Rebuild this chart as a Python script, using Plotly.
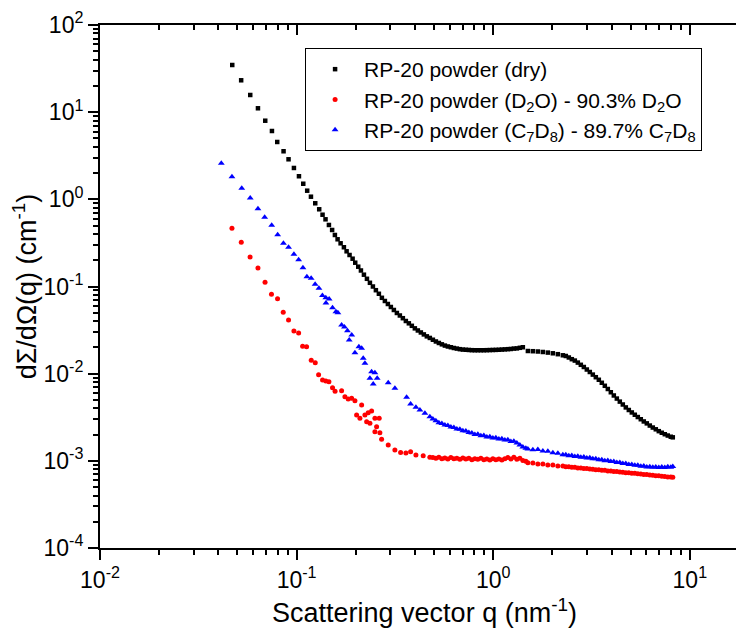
import plotly.graph_objects as go

# ---------------- data ----------------
# shared q grids (nm^-1)
q_mid = [0.2124, 0.2200, 0.2279, 0.2360, 0.2444, 0.2531, 0.2621, 0.2715, 0.2812, 0.2912,
         0.3016, 0.3124, 0.3236, 0.3351, 0.3471, 0.3595, 0.3723, 0.3856, 0.3994, 0.4137,
         0.4285, 0.4438, 0.4596, 0.4760]
q_plateau = [0.4934, 0.5110, 0.5292, 0.5481, 0.5677, 0.5880, 0.6090, 0.6308, 0.6533, 0.6767,
             0.7009, 0.7259, 0.7518, 0.7787, 0.8065, 0.8353, 0.8652, 0.8961, 0.9281, 0.9613,
             0.9960, 1.0316, 1.0684, 1.1066, 1.1462, 1.1872, 1.2296, 1.2735, 1.3190, 1.3662,
             1.4150, 1.4656]
q_high = [1.5009, 1.591, 1.6868, 1.7884, 1.8962, 2.0109, 2.1321, 2.2606, 2.3406, 2.4243,
          2.5110, 2.6008, 2.6937, 2.7900, 2.8900, 2.9933, 3.1003, 3.2112, 3.3259, 3.4449,
          3.5680, 3.6955, 3.8277, 3.9645, 4.1062, 4.2530, 4.4050, 4.5624, 4.7255, 4.8944,
          5.0694, 5.2506, 5.4382, 5.6326, 5.8339, 6.0426, 6.2585, 6.4820, 6.7137, 6.9535,
          7.2018, 7.4594, 7.7260, 8.0019, 8.1918]

# RP-20 powder (dry)
q_dry_low = [0.04706, 0.05224, 0.05810, 0.06360, 0.06926, 0.07492, 0.07969, 0.08583, 0.0910, 0.09691,
             0.1028, 0.1081, 0.1132, 0.1183, 0.1244, 0.1303, 0.1355, 0.1403, 0.1460, 0.1516,
             0.1566, 0.1616, 0.1674, 0.1740, 0.1796, 0.1859, 0.1927, 0.1987, 0.2058]
I_dry_low = [34.76, 23.21, 15.74, 11.08, 7.98, 6.08, 4.55, 3.56, 2.88, 2.29,
             1.84, 1.51, 1.256, 1.072, 0.901, 0.769, 0.666, 0.590, 0.508, 0.445,
             0.390, 0.348, 0.313, 0.282, 0.2534, 0.2298, 0.2084, 0.1875, 0.1687]
I_dry_mid = [0.1527, 0.1366, 0.1226, 0.1103, 0.1000, 0.0907, 0.0825, 0.0742, 0.0682, 0.0630,
             0.0582, 0.0538, 0.0497, 0.0465, 0.0433, 0.0402, 0.0378, 0.0354, 0.0331, 0.0313,
             0.0297, 0.0282, 0.0268, 0.0257]
I_dry_plateau = [0.0245, 0.0234, 0.0225, 0.0217, 0.0210, 0.0205, 0.0201, 0.0197, 0.0194, 0.0191,
                 0.0189, 0.0188, 0.0187, 0.0186, 0.01857, 0.01857, 0.01857, 0.01857, 0.0186, 0.01865,
                 0.0187, 0.01874, 0.0188, 0.0189, 0.0190, 0.0191, 0.0192, 0.0194, 0.0195, 0.0198,
                 0.0201]
I_dry_high = [0.0182, 0.0181, 0.01796, 0.01773, 0.01745, 0.01713, 0.01673, 0.01625, 0.01595, 0.01533,
              0.01466, 0.01413, 0.01340, 0.01264, 0.01193, 0.01116, 0.01045, 0.00976, 0.00911, 0.00851,
              0.00786, 0.00726, 0.00667, 0.00612, 0.00562, 0.00518, 0.00478, 0.00443, 0.00410, 0.00383,
              0.00359, 0.00338, 0.00318, 0.00300, 0.00283, 0.00269, 0.00254, 0.00241, 0.00230, 0.00219,
              0.00210, 0.00202, 0.00195, 0.00189, 0.00186]

# RP-20 powder (D2O) - 90.3% D2O
q_d2o_low = [0.0469, 0.0523, 0.0580, 0.0636, 0.0691, 0.0745, 0.0800, 0.0855, 0.0910, 0.0969,
             0.1024, 0.1073, 0.1124, 0.1187, 0.1244, 0.1294, 0.1355, 0.1408, 0.1460, 0.1523,
             0.1569, 0.1694, 0.1761, 0.1830, 0.1905, 0.1980, 0.2019, 0.2099, 0.2142, 0.2226,
             0.2271, 0.2313, 0.2360, 0.2407, 0.2502, 0.2502, 0.2552, 0.2631, 0.2652, 0.2706,
             0.2924, 0.3162, 0.3381, 0.3596, 0.3800, 0.4044, 0.4404, 0.4762]
I_d2o_low = [0.465, 0.322, 0.218, 0.163, 0.112, 0.0814, 0.0725, 0.0506, 0.0413, 0.0309,
             0.0293, 0.0206, 0.0204, 0.01424, 0.01337, 0.00973, 0.00846, 0.00824, 0.00809, 0.00691,
             0.00628, 0.00636, 0.00544, 0.00512, 0.00522, 0.00490, 0.00336, 0.00308, 0.00437, 0.00336,
             0.00281, 0.00357, 0.00270, 0.00373, 0.00308, 0.00216, 0.00246, 0.00308, 0.00210, 0.00177,
             0.00152, 0.00133, 0.00125, 0.00123, 0.00127, 0.00117, 0.00114, 0.00110]
I_d2o_plateau = [1.09e-3, 1.07e-3, 1.10e-3, 1.06e-3, 1.08e-3, 1.05e-3, 1.09e-3, 1.06e-3, 1.07e-3, 1.04e-3,
                 1.08e-3, 1.05e-3, 1.07e-3, 1.03e-3, 1.06e-3, 1.04e-3, 1.07e-3, 1.03e-3, 1.05e-3, 1.02e-3,
                 1.06e-3, 1.03e-3, 1.05e-3, 1.02e-3, 1.06e-3, 1.09e-3, 1.05e-3, 1.10e-3, 1.04e-3, 1.07e-3,
                 1.01e-3, 0.99e-3]
I_d2o_high = [9.52e-4, 9.45e-4, 9.22e-4, 9.18e-4, 8.98e-4, 8.95e-4, 8.74e-4, 8.71e-4, 8.58e-4, 8.57e-4,
              8.42e-4, 8.43e-4, 8.30e-4, 8.29e-4, 8.17e-4, 8.16e-4, 8.05e-4, 8.03e-4, 7.92e-4, 7.91e-4,
              7.80e-4, 7.78e-4, 7.67e-4, 7.66e-4, 7.55e-4, 7.54e-4, 7.43e-4, 7.42e-4, 7.31e-4, 7.30e-4,
              7.20e-4, 7.18e-4, 7.09e-4, 7.07e-4, 6.97e-4, 6.96e-4, 6.86e-4, 6.85e-4, 6.76e-4, 6.74e-4,
              6.65e-4, 6.63e-4, 6.54e-4, 6.52e-4, 6.46e-4]

# RP-20 powder (C7D8) - 89.7% C7D8
q_c7d8_low = [0.0414, 0.0469, 0.0526, 0.0581, 0.0636, 0.0688, 0.0747, 0.0801, 0.0857, 0.0910,
              0.0969, 0.1024, 0.1077, 0.1128, 0.1186, 0.1242, 0.1299, 0.1353, 0.1408, 0.1464,
              0.1410, 0.1523, 0.1585, 0.1622, 0.1694, 0.1751, 0.1814, 0.1852, 0.1907, 0.1980,
              0.2074, 0.2142, 0.2182, 0.2226, 0.2360, 0.2407, 0.2453, 0.2502, 0.2570, 0.2924,
              0.3162, 0.3627, 0.3800, 0.4044, 0.4238, 0.4493, 0.4762]
I_c7d8_low = [2.591, 1.818, 1.339, 1.036, 0.781, 0.622, 0.504, 0.393, 0.314, 0.2824,
              0.2342, 0.2025, 0.1643, 0.1296, 0.1245, 0.1060, 0.0954, 0.0788, 0.0744, 0.0719,
              0.0647, 0.0571, 0.0514, 0.0501, 0.0362, 0.0343, 0.0310, 0.0243, 0.0278, 0.0174,
              0.0204, 0.0196, 0.0150, 0.01315, 0.00885, 0.01053, 0.00761, 0.01026, 0.00885, 0.00788,
              0.00680, 0.00536, 0.00449, 0.00411, 0.00383, 0.00351, 0.00321]
I_c7d8_plateau = [3.02e-3, 2.88e-3, 2.73e-3, 2.68e-3, 2.57e-3, 2.54e-3, 2.44e-3, 2.41e-3, 2.32e-3, 2.31e-3,
                  2.22e-3, 2.20e-3, 2.11e-3, 2.09e-3, 2.01e-3, 2.02e-3, 1.94e-3, 1.95e-3, 1.88e-3, 1.89e-3,
                  1.83e-3, 1.84e-3, 1.78e-3, 1.79e-3, 1.73e-3, 1.74e-3, 1.67e-3, 1.68e-3, 1.60e-3, 1.52e-3,
                  1.44e-3, 1.39e-3]
I_c7d8_high = [1.367e-3, 1.340e-3, 1.345e-3, 1.300e-3, 1.290e-3, 1.235e-3, 1.224e-3, 1.176e-3, 1.175e-3, 1.145e-3,
               1.152e-3, 1.120e-3, 1.128e-3, 1.096e-3, 1.103e-3, 1.078e-3, 1.084e-3, 1.058e-3, 1.060e-3, 1.028e-3,
               1.030e-3, 1.002e-3, 1.006e-3, 0.981e-3, 0.983e-3, 0.955e-3, 0.960e-3, 0.933e-3, 0.934e-3, 0.909e-3,
               0.910e-3, 0.887e-3, 0.890e-3, 0.869e-3, 0.872e-3, 0.852e-3, 0.858e-3, 0.842e-3, 0.851e-3, 0.836e-3,
               0.848e-3, 0.838e-3, 0.853e-3, 0.846e-3, 0.860e-3]

names = ["RP-20 powder (dry)",
         "RP-20 powder (D<sub>2</sub>O) - 90.3% D<sub>2</sub>O",
         "RP-20 powder (C<sub>7</sub>D<sub>8</sub>) - 89.7% C<sub>7</sub>D<sub>8</sub>"]

x_tickvals = [0.01, 0.1, 1, 10]
x_ticktext = ["10<sup>-2</sup>", "10<sup>-1</sup>", "10<sup>0</sup>", "10<sup>1</sup>"]
y_tickvals = [1e-4, 1e-3, 1e-2, 1e-1, 1, 10, 100]
y_ticktext = ["10<sup>-4</sup>", "10<sup>-3</sup>", "10<sup>-2</sup>", "10<sup>-1</sup>",
              "10<sup>0</sup>", "10<sup>1</sup>", "10<sup>2</sup>"]

# ---------------- figure ----------------
FONT = "Liberation Sans, Arial, sans-serif"
q_dry = q_dry_low + q_mid + q_plateau[:31] + q_high
I_dry = I_dry_low + I_dry_mid + I_dry_plateau + I_dry_high
q_d2o = q_d2o_low + q_plateau + q_high
I_d2o = I_d2o_low + I_d2o_plateau + I_d2o_high
q_c7d8 = q_c7d8_low + q_plateau + q_high
I_c7d8 = I_c7d8_low + I_c7d8_plateau + I_c7d8_high

fig = go.Figure()
fig.add_trace(go.Scatter(x=q_dry, y=I_dry, mode="markers", name=names[0],
                         marker=dict(symbol="square", size=4.5, color="black")))
fig.add_trace(go.Scatter(x=q_d2o, y=I_d2o, mode="markers", name=names[1],
                         marker=dict(symbol="circle", size=5, color="#ff0000")))
fig.add_trace(go.Scatter(x=q_c7d8, y=I_c7d8, mode="markers", name=names[2],
                         marker=dict(symbol="triangle-up", size=6, color="#0000ff")))
# helper trace so that the mirror axes (top / right) are drawn
fig.add_trace(go.Scatter(x=[None], y=[None], xaxis="x2", yaxis="y2", showlegend=False,
                         hoverinfo="skip"))

minor_x = [m * 10.0 ** e for e in range(-2, 2) for m in range(2, 10)]
minor_y = [m * 10.0 ** e for e in range(-4, 2) for m in range(2, 10)]

xr = [-2, 1.30103]
yr = [-4, 2]

axis_common = dict(showgrid=False, zeroline=False, automargin=False,
                   linecolor="black", linewidth=2, tickwidth=2, tickcolor="black")

fig.update_layout(
    width=744, height=634,
    margin=dict(l=92, r=3, t=17, b=94),
    paper_bgcolor="white", plot_bgcolor="white",
    font=dict(family=FONT, size=22, color="black"),
    showlegend=True,
    legend=dict(x=0.316, y=0.956, xanchor="left", yanchor="top",
                bgcolor="white", bordercolor="black", borderwidth=1,
                font=dict(family=FONT, size=21, color="black"),
                itemwidth=48, tracegroupgap=0),
    xaxis=dict(type="log", range=xr, showline=True,
               ticks="outside", ticklen=10,
               tickmode="array", tickvals=x_tickvals, ticktext=x_ticktext,
               tickfont=dict(family=FONT, size=23),
               minor=dict(tickmode="array", tickvals=minor_x, ticks="outside",
                          ticklen=5, tickwidth=2, tickcolor="black", showgrid=False),
               title=dict(text="Scattering vector q (nm<sup>-1</sup>)",
                          font=dict(family=FONT, size=27), standoff=12),
               **axis_common),
    xaxis2=dict(type="log", range=xr, overlaying="x", side="top", anchor="y2",
                showline=True, ticks="inside", ticklen=10,
                tickmode="array", tickvals=x_tickvals, showticklabels=False,
                minor=dict(tickmode="array", tickvals=minor_x, ticks="inside",
                           ticklen=5, tickwidth=2, tickcolor="black", showgrid=False),
                **axis_common),
    yaxis=dict(type="log", range=yr, showline=True, mirror=False,
               ticks="outside", ticklen=10,
               tickmode="array", tickvals=y_tickvals, ticktext=y_ticktext,
               tickfont=dict(family=FONT, size=23),
               minor=dict(tickmode="array", tickvals=minor_y, ticks="outside",
                          ticklen=5, tickwidth=2, tickcolor="black", showgrid=False),
               title=dict(text="d\u03a3/d\u03a9(q) (cm<sup>-1</sup>)",
                          font=dict(family=FONT, size=27), standoff=2),
               **axis_common),
    yaxis2=dict(type="log", range=yr, overlaying="y", side="right", anchor="x2",
                showline=True, ticks="inside", ticklen=10,
                tickmode="array", tickvals=y_tickvals, showticklabels=False,
                minor=dict(tickmode="array", tickvals=minor_y, ticks="inside",
                           ticklen=5, tickwidth=2, tickcolor="black", showgrid=False),
                **axis_common),
)

fig.write_html("out.html")
